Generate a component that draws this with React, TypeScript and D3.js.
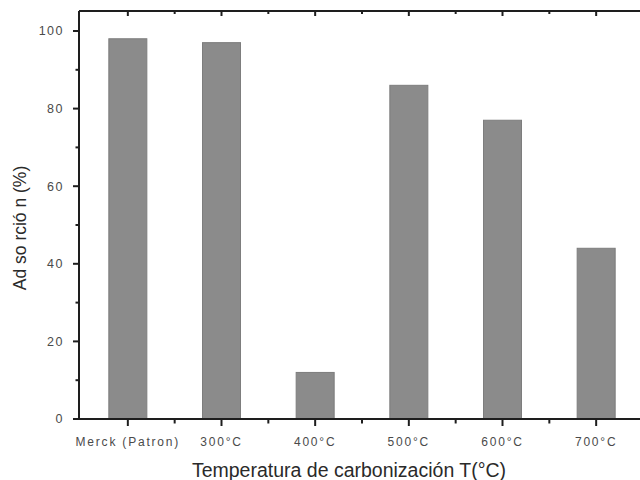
import React from "react";
import * as d3 from "d3";

const categories = ["Merck (Patron)", "300°C", "400°C", "500°C", "600°C", "700°C"];
const adsorption = [98, 97, 12, 86, 77, 44];
const yTicks = [0, 20, 40, 60, 80, 100];
const yMinorTicks = [10, 30, 50, 70, 90];

const W = 640;
const H = 480;
const left = 79;
const top = 11;
const bottom = 419;

export default function App() {
  const x = d3
    .scalePoint<string>()
    .domain(categories)
    .range([81, 643])
    .padding(0.5);
  const step = x.step();
  const y = d3.scaleLinear().domain([0, 100]).range([bottom, 31]);
  const barW = 38;
  const font = "'Liberation Sans', Arial, sans-serif";
  const axisColor = "#1e1e1e";

  const minorX = categories.slice(0, -1).map((c) => (x(c) as number) + step / 2);

  return (
    <svg
      width={W}
      height={H}
      style={{ position: "absolute", left: 0, top: 0, background: "#fff" }}
      fontFamily={font}
    >
      <rect width={W} height={H} fill="#fff" />
      {/* bars */}
      {categories.map((c, i) => (
        <rect
          key={c}
          x={(x(c) as number) - barW / 2}
          y={y(adsorption[i])}
          width={barW}
          height={bottom - y(adsorption[i])}
          fill="#8b8b8b"
          stroke="#7d7d7d"
          strokeWidth={1}
        />
      ))}

      {/* frame */}
      <line x1={left} x2={W} y1={top} y2={top} stroke={axisColor} strokeWidth={2} />
      <line x1={left} x2={left} y1={top} y2={bottom + 1} stroke={axisColor} strokeWidth={2} />
      <line x1={left - 1} x2={W} y1={bottom} y2={bottom} stroke={axisColor} strokeWidth={2} />

      {/* y ticks */}
      {yTicks.map((t) => (
        <g key={t}>
          <line x1={left - 6} x2={left} y1={y(t)} y2={y(t)} stroke={axisColor} strokeWidth={2} />
          <text
            x={64}
            y={y(t)}
            dy="0.35em"
            textAnchor="end"
            fontSize={12.5}
            letterSpacing={1.5}
            fill="#4a4a4a"
          >
            {t}
          </text>
        </g>
      ))}
      {yMinorTicks.map((t) => (
        <line key={t} x1={left - 3.5} x2={left} y1={y(t)} y2={y(t)} stroke={axisColor} strokeWidth={2} />
      ))}

      {/* x ticks */}
      {categories.map((c) => (
        <g key={c}>
          <line x1={x(c)} x2={x(c)} y1={bottom} y2={bottom + 7} stroke={axisColor} strokeWidth={2} />
          <line x1={x(c)} x2={x(c)} y1={top} y2={top + 5} stroke={axisColor} strokeWidth={2} />
          <text
            x={x(c)}
            y={446}
            textAnchor="middle"
            fontSize={12}
            letterSpacing={1.8}
            fill="#4a4a4a"
          >
            {c}
          </text>
        </g>
      ))}
      {minorX.map((mx, i) => (
        <g key={i}>
          <line x1={mx} x2={mx} y1={bottom} y2={bottom + 4.5} stroke={axisColor} strokeWidth={2} />
          <line x1={mx} x2={mx} y1={top} y2={top + 3} stroke={axisColor} strokeWidth={2} />
        </g>
      ))}

      {/* axis titles */}
      <text
        x={349}
        y={477}
        textAnchor="middle"
        fontSize={19.5}
        fill="#2a2a2a"
      >
        Temperatura de carbonización T(°C)
      </text>
      <text
        transform={`translate(26,228) rotate(-90)`}
        textAnchor="middle"
        fontSize={17.5}
        fill="#2a2a2a"
      >
        Ad so rció n (%)
      </text>
    </svg>
  );
}
